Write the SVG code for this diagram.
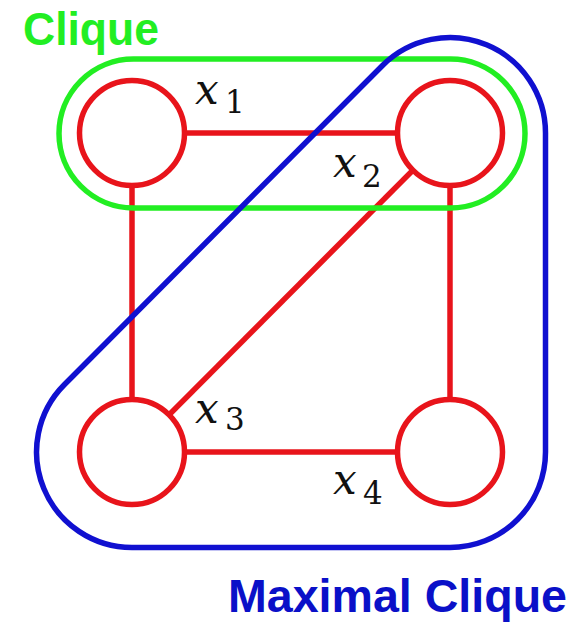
<svg xmlns="http://www.w3.org/2000/svg" width="575" height="622" viewBox="0 0 575 622">
<style>
.edge{stroke:#E8141B;stroke-width:5.5;fill:none}
.node{stroke:#E8141B;stroke-width:5.5;fill:#FFFFFF}
.lbl{font-family:"DejaVu Serif","Liberation Serif",serif;font-style:italic;font-size:42px;fill:#111}
.sub{font-style:normal;font-size:31px}
.title{font-family:"Liberation Sans",Arial,sans-serif;font-weight:bold;font-size:46px}
</style>
<rect width="575" height="622" fill="#FFFFFF"/>
<g id="connectors">
<line class="edge" x1="132" y1="133" x2="450" y2="133"/>
<line class="edge" x1="132" y1="133" x2="132" y2="452"/>
<line class="edge" x1="450" y1="133" x2="450" y2="452"/>
<line class="edge" x1="132" y1="452" x2="450" y2="452"/>
<line class="edge" x1="450" y1="133" x2="132" y2="452"/>
</g>
<g id="x1"><circle class="node" cx="132" cy="133" r="52.5"/><text class="lbl" x="195" y="104">x<tspan class="sub" x="225" y="113">1</tspan></text></g>
<g id="x2"><circle class="node" cx="450" cy="133" r="52.5"/><text class="lbl" x="333" y="177">x<tspan class="sub" x="362" y="187">2</tspan></text></g>
<g id="x3"><circle class="node" cx="132" cy="452" r="52.5"/><text class="lbl" x="195" y="423">x<tspan class="sub" x="225" y="430">3</tspan></text></g>
<g id="x4"><circle class="node" cx="450" cy="452" r="52.5"/><text class="lbl" x="333" y="494">x<tspan class="sub" x="363" y="504">4</tspan></text></g>
<g id="clique">
<rect x="59" y="59" width="466" height="149" rx="74.5" ry="74.5" fill="none" stroke="#22EE22" stroke-width="5.5"/>
<text class="title" x="23" y="45" fill="#22EE22" textLength="136" lengthAdjust="spacingAndGlyphs">Clique</text>
</g>
<g id="maximal-clique">
<path d="M382.5,65.5 A95.5,95.5 0 0 1 545.5,133 L545.5,452 A95.5,95.5 0 0 1 450,547.5 L132,547.5 A95.5,95.5 0 0 1 64.5,384.5 Z" fill="none" stroke="#1010D0" stroke-width="5.5" stroke-linejoin="round"/>
<text class="title" x="228" y="612" fill="#0A10C8" textLength="339" lengthAdjust="spacingAndGlyphs">Maximal Clique</text>
</g>
</svg>
